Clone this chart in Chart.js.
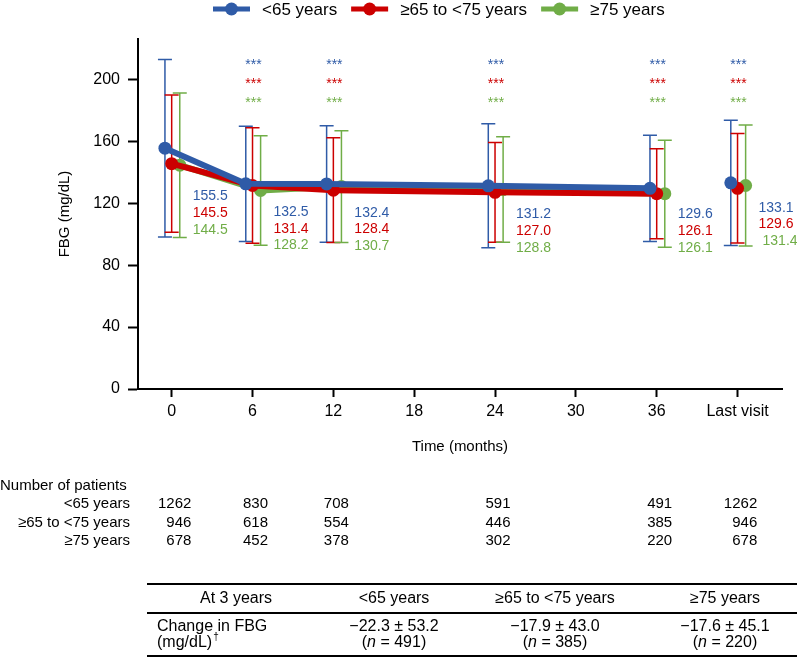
<!DOCTYPE html>
<html><head><meta charset="utf-8">
<script src="https://cdn.jsdelivr.net/npm/chart.js@4.4.0/dist/chart.umd.min.js"></script>
<style>html,body{margin:0;padding:0;background:#fff;} #wrap{position:relative;width:797px;height:666px;}</style>
</head><body><div id="wrap"><canvas id="c" width="797" height="666"></canvas></div>
<script>
// ---------- data ----------
const groups = ['<65 years', '≥65 to <75 years', '≥75 years'];
const visitLabels = ['0', '6', '12', '24', '36', 'Last visit'];
const visitX = [0, 6, 12, 24, 36, 42];
const xTickValues = [0, 6, 12, 18, 24, 30, 36, 42];
const yTickValues = [0, 40, 80, 120, 160, 200];
const meanU65 = [155.5, 132.5, 132.4, 131.2, 129.6, 133.1];
const mean65to75 = [145.5, 131.4, 128.4, 127.0, 126.1, 129.6];
const meanO75 = [144.5, 128.2, 130.7, 128.8, 126.1, 131.4];
const sdU65 = [57.3, 37.2, 37.6, 40.0, 34.3, 40.4];
const sd65to75 = [44.3, 37.3, 33.8, 32.2, 29.1, 35.4];
const sdO75 = [46.6, 35.4, 36.1, 34.1, 34.5, 39.1];
const significance = ['', '***', '***', '***', '***', '***'];
const patientsU65 = [1262, 830, 708, 591, 491, 1262];
const patients65to75 = [946, 618, 554, 446, 385, 946];
const patientsO75 = [678, 452, 378, 302, 220, 678];
const tableHeader = ['At 3 years', '<65 years', '≥65 to <75 years', '≥75 years'];
const changeMean = ['−22.3', '−17.9', '−17.6'];
const changeSD = ['53.2', '43.0', '45.1'];
const changeN = [491, 385, 220];

// ---------- styling / layout ----------
const FONT = '"Liberation Sans", Arial, sans-serif';
const colors = ['#2F5BA7', '#CC0000', '#70AD47'];
const means = [meanU65, mean65to75, meanO75];
const sds = [sdU65, sd65to75, sdO75];
const patients = [patientsU65, patients65to75, patientsO75];
const xOffset = [-0.5, 0, 0.6];           // horizontal dodge (months)
const labelTopV = [124.4, 114.3, 113.7, 112.8, 112.8, 117.1]; // value-label block anchor (y units)
const starLevelV = [211.2, 198.9, 186.9];  // asterisk row anchors (y units)

Chart.defaults.font.family = FONT;
Chart.defaults.color = '#000';

function seriesPoints(g) {
  const arr = [];
  visitX.forEach((x, i) => {
    if (i === visitX.length - 1) arr.push({x: 39, y: null});
    arr.push({x: x + xOffset[g], y: means[g][i]});
  });
  return arr;
}

const datasets = groups.map((name, g) => ({
  label: name,
  data: seriesPoints(g),
  borderColor: colors[g],
  backgroundColor: colors[g],
  borderWidth: 6,
  pointRadius: 6.5,
  pointBorderWidth: 0,
  pointBackgroundColor: colors[g],
  spanGaps: false,
  tension: 0
}));

function drawItalicN(ctx, cx, y, pre, it, post, size) {
  ctx.save();
  ctx.font = size + 'px ' + FONT;
  const w1 = ctx.measureText(pre).width, w3 = ctx.measureText(post).width;
  ctx.font = 'italic ' + size + 'px ' + FONT;
  const w2 = ctx.measureText(it).width;
  let x = cx - (w1 + w2 + w3) / 2;
  ctx.textAlign = 'left';
  ctx.font = size + 'px ' + FONT; ctx.fillText(pre, x, y); x += w1;
  ctx.font = 'italic ' + size + 'px ' + FONT; ctx.fillText(it, x, y); x += w2;
  ctx.font = size + 'px ' + FONT; ctx.fillText(post, x, y);
  ctx.restore();
}

const overlay = {
  id: 'overlay',
  beforeDatasetsDraw(chart) {
    const ctx = chart.ctx, xs = chart.scales.x, ys = chart.scales.y;
    ctx.save();
    ctx.lineWidth = 1.5;
    for (let g = 0; g < 3; g++) {
      ctx.strokeStyle = colors[g];
      visitX.forEach((vx, i) => {
        const x = xs.getPixelForValue(vx + xOffset[g]);
        const yt = ys.getPixelForValue(means[g][i] + sds[g][i]);
        const yb = ys.getPixelForValue(means[g][i] - sds[g][i]);
        ctx.beginPath();
        ctx.moveTo(x, yt); ctx.lineTo(x, yb);
        ctx.moveTo(x - 7, yt); ctx.lineTo(x + 7, yt);
        ctx.moveTo(x - 7, yb); ctx.lineTo(x + 7, yb);
        ctx.stroke();
      });
    }
    ctx.restore();
  },
  afterDatasetsDraw(chart) {
    const ctx = chart.ctx, xs = chart.scales.x, ys = chart.scales.y;
    ctx.save();
    ctx.font = '14px ' + FONT;
    ctx.textAlign = 'left';
    ctx.textBaseline = 'middle';
    visitX.forEach((vx, i) => {
      const x0 = xs.getPixelForValue(vx) + 21;
      const y0 = ys.getPixelForValue(labelTopV[i]);
      for (let g = 0; g < 3; g++) {
        ctx.fillStyle = colors[g];
        const nudge = (i === visitX.length - 1 && g === 2) ? 4 : 0;
        ctx.fillText(means[g][i].toFixed(1), x0 + nudge, y0 + g * 16.7);
      }
    });
    ctx.font = '14px ' + FONT;
    ctx.textAlign = 'center';
    ctx.textBaseline = 'alphabetic';
    visitX.forEach((vx, i) => {
      if (!significance[i]) return;
      const x = xs.getPixelForValue(vx) + 1;
      for (let g = 0; g < 3; g++) {
        ctx.fillStyle = colors[g];
        ctx.fillText(significance[i], x, ys.getPixelForValue(starLevelV[g]) + 7);
      }
    });
    ctx.restore();
  },
  afterDraw(chart) {
    const ctx = chart.ctx, xs = chart.scales.x;
    ctx.save();
    // legend
    ctx.font = '17px ' + FONT;
    ctx.textBaseline = 'middle';
    ctx.textAlign = 'left';
    let lx = 213;
    const ly = 9;
    groups.forEach((name, g) => {
      ctx.strokeStyle = colors[g]; ctx.fillStyle = colors[g];
      ctx.lineWidth = 5;
      ctx.beginPath(); ctx.moveTo(lx, ly); ctx.lineTo(lx + 37, ly); ctx.stroke();
      ctx.beginPath(); ctx.arc(lx + 18.5, ly, 6.5, 0, Math.PI * 2); ctx.fill();
      ctx.fillStyle = '#000';
      ctx.fillText(name, lx + 49, ly + 1);
      lx += 49 + ctx.measureText(name).width + 14;
    });
    // number of patients
    ctx.font = '15px ' + FONT;
    ctx.fillStyle = '#000';
    ctx.textAlign = 'left';
    ctx.fillText('Number of patients', 0, 486);
    const rowY = [504, 522.5, 541];
    ctx.textAlign = 'right';
    groups.forEach((name, g) => ctx.fillText(name, 130, rowY[g]));
    visitX.forEach((vx, i) => {
      let wmax = 0;
      for (let g = 0; g < 3; g++) wmax = Math.max(wmax, ctx.measureText(String(patients[g][i])).width);
      const xr = xs.getPixelForValue(vx) + 3 + wmax / 2;
      for (let g = 0; g < 3; g++) ctx.fillText(String(patients[g][i]), xr, rowY[g]);
    });
    // table
    ctx.strokeStyle = '#000';
    ctx.lineWidth = 2;
    [584, 613, 656].forEach(y => { ctx.beginPath(); ctx.moveTo(147, y); ctx.lineTo(797, y); ctx.stroke(); });
    const colX = [236, 394, 555, 725];
    ctx.font = '16px ' + FONT;
    ctx.textAlign = 'center';
    tableHeader.forEach((h, k) => ctx.fillText(h, colX[k], 598.5));
    ctx.textAlign = 'left';
    ctx.fillText('Change in FBG', 157, 627);
    ctx.fillText('(mg/dL)', 157, 643);
    const wmg = ctx.measureText('(mg/dL)').width;
    ctx.font = '10px ' + FONT;
    ctx.fillText('†', 157 + wmg + 1, 637);
    changeMean.forEach((m, k) => {
      ctx.font = '16px ' + FONT;
      ctx.textAlign = 'center';
      ctx.fillText(m + ' ± ' + changeSD[k], colX[k + 1], 627);
      drawItalicN(ctx, colX[k + 1], 643, '(', 'n', ' = ' + changeN[k] + ')', 16);
    });
    ctx.restore();
  }
};

new Chart(document.getElementById('c'), {
  type: 'line',
  data: { datasets },
  options: {
    responsive: false,
    animation: false,
    layout: { padding: { top: 39, left: 0, right: 15, bottom: 207 } },
    plugins: { legend: { display: false }, tooltip: { enabled: false } },
    scales: {
      x: {
        type: 'linear', min: -2.5, max: 45.3,
        afterFit: s => { s.height = 70; },
        afterBuildTicks: s => { s.ticks = xTickValues.map(v => ({value: v})); },
        ticks: {
          font: { size: 16 }, color: '#000', padding: 5, maxRotation: 0, autoSkip: false,
          callback: v => (v === 42 ? visitLabels[visitLabels.length - 1] : String(v))
        },
        grid: { drawOnChartArea: false, drawTicks: true, tickLength: 8, tickWidth: 2, tickColor: '#000' },
        border: { display: true, color: '#000', width: 2 },
        title: { display: true, text: 'Time (months)', font: { size: 15 }, color: '#000', padding: { top: 0, bottom: 3 } }
      },
      y: {
        min: 0, max: 226,
        afterFit: s => { s.width = 138; },
        afterBuildTicks: s => { s.ticks = yTickValues.map(v => ({value: v})); },
        ticks: { font: { size: 16 }, color: '#000', padding: 8 },
        grid: { drawOnChartArea: false, drawTicks: true, tickLength: 10, tickWidth: 2, tickColor: '#000' },
        border: { display: true, color: '#000', width: 2 },
        title: { display: true, text: 'FBG (mg/dL)', font: { size: 15 }, color: '#000', padding: { top: 56, bottom: 0 } }
      }
    }
  },
  plugins: [overlay]
});
</script>
</body></html>
